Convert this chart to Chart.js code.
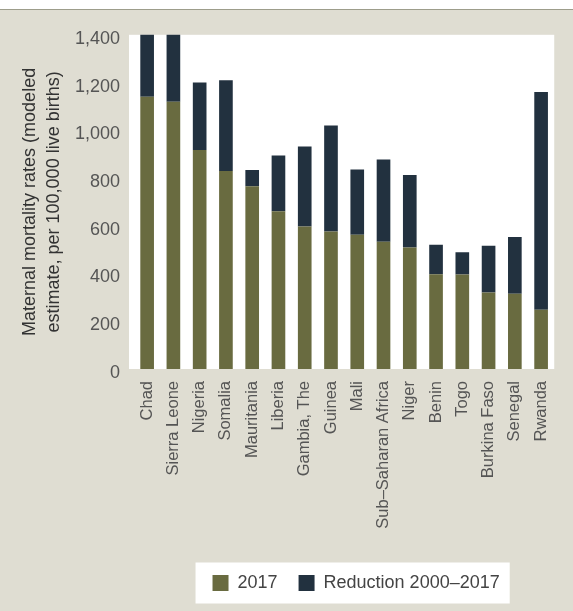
<!DOCTYPE html>
<html lang="en">
<head>
  <meta charset="UTF-8">
  <title>Maternal mortality rates</title>
  <script src="https://cdn.jsdelivr.net/npm/chart.js"></script>
  <style>
    body {
      margin: 0;
      background: #fff;
    }

    /* beige panel under a thin rule, like the source figure */
    .frame {
      margin-top: 9px;
      border-top: 1px solid #9d9d8b;
      background: #dfddd2;
      width: 573px;
      height: 601px;
    }
  </style>
</head>
<body>
  <div class="frame">
    <canvas id="mmrChart" width="573" height="601"></canvas>
  </div>

  <script>
    // Modeled maternal mortality ratio, per 100,000 live births
    const countries = ['Chad', 'Sierra Leone', 'Nigeria', 'Somalia', 'Mauritania', 'Liberia', 'Gambia, The', 'Guinea',
      'Mali', 'Sub–Saharan Africa', 'Niger', 'Benin', 'Togo', 'Burkina Faso', 'Senegal', 'Rwanda'];
    const mmr2017 = [1140, 1120, 917, 829, 766, 661, 597, 576, 562, 533, 509, 397, 396, 320, 315, 248];
    const reduction = [280, 1360, 283, 381, 68, 233, 335, 444, 274, 345, 304, 123, 93, 196, 238, 912];
    const yTicks = [0, 200, 400, 600, 800, 1000, 1200, 1400];

    const OLIVE = '#696b40';
    const NAVY = '#22313f';

    Chart.defaults.font.family = '"Liberation Sans", Arial, sans-serif';

    // white plot panel + white legend panel; legend nudged right a bit
    const backdrop = {
      id: 'backdrop',
      afterLayout(chart) {
        const lg = chart.legend;
        lg.left += 12;
        lg.right += 12;
        (lg.legendHitBoxes || []).forEach(b => { b.left += 12; });
      },
      beforeDraw(chart) {
        const { ctx, chartArea: a, legend } = chart;
        ctx.save();
        ctx.fillStyle = '#fff';
        ctx.fillRect(a.left - 5, a.top, a.right - a.left + 5, a.bottom - a.top);
        const boxes = legend.legendHitBoxes;
        if (boxes && boxes.length) {
          const l = Math.min(...boxes.map(b => b.left)) - 17;
          const r = Math.max(...boxes.map(b => b.left + b.width)) + 10;
          const cy = boxes[0].top + boxes[0].height / 2;
          ctx.fillRect(l, cy - 20.5, r - l, 41);
        }
        ctx.restore();
      }
    };

    new Chart(document.getElementById('mmrChart'), {
      type: 'bar',
      data: {
        labels: countries,
        datasets: [
          { label: '2017', data: mmr2017, backgroundColor: OLIVE },
          { label: 'Reduction 2000–2017', data: reduction, backgroundColor: NAVY }
        ]
      },
      options: {
        responsive: false,
        animation: false,
        layout: { padding: { top: 22, right: 3, bottom: 9, left: 0 } },
        datasets: {
          bar: { barPercentage: 0.52, categoryPercentage: 1 }
        },
        scales: {
          x: {
            stacked: true,
            grid: { display: false, drawTicks: false },
            border: { display: false },
            ticks: {
              autoSkip: false,
              minRotation: 90,
              maxRotation: 90,
              padding: 12,
              color: '#555',
              font: { size: 16.5 }
            },
            afterFit: s => { s.height = 184; }
          },
          y: {
            stacked: true,
            min: 0,
            max: 1400,
            afterBuildTicks: s => { s.ticks = yTicks.map(v => ({ value: v })); },
            grid: { display: false, drawTicks: false },
            border: { display: false },
            ticks: {
              padding: 14,
              labelOffset: 4,
              color: '#555',
              font: { size: 18 },
              callback: v => v.toLocaleString('en-US')
            },
            title: {
              display: true,
              text: ['Maternal mortality rates (modeled', 'estimate, per 100,000 live births)'],
              color: '#333',
              font: { size: 18, lineHeight: 1.28 },
              padding: { top: 19, bottom: 0 }
            },
            afterFit: s => { s.width = 134; }
          }
        },
        plugins: {
          legend: {
            position: 'bottom',
            fullSize: false,
            labels: {
              boxWidth: 16,
              boxHeight: 16,
              padding: 21,
              color: '#444',
              font: { size: 18 }
            }
          },
          tooltip: { enabled: false }
        }
      },
      plugins: [backdrop]
    });
  </script>
</body>
</html>
